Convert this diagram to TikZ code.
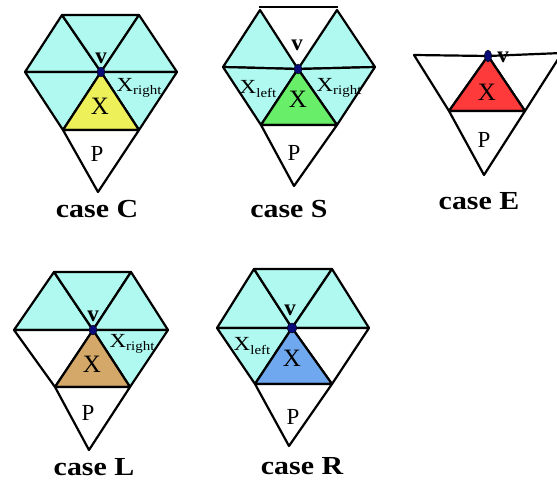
\documentclass[tikz,border=0pt]{standalone}
\usepackage{fontspec}
\usetikzlibrary{shapes.geometric}
\setmainfont{Liberation Serif}
\definecolor{cyanfill}{RGB}{176,249,240}
\definecolor{yelfill}{RGB}{238,240,90}
\definecolor{grnfill}{RGB}{104,238,104}
\definecolor{redfill}{RGB}{255,58,58}
\definecolor{tanfill}{RGB}{212,168,104}
\definecolor{bluefill}{RGB}{112,168,240}
\definecolor{navy}{RGB}{10,10,120}
\newcommand\mytri[4]{\filldraw[tri,fill=#1] (#2)--(#3)--(#4)--cycle;}
\newcommand\xsub[1]{\scalebox{1.15}[1]{{\fontsize{20}{20}\selectfont X}{\fontsize{13}{13}\selectfont\raisebox{-3.5pt}{#1}}}}
\newcommand\caseword[1]{\scalebox{1.15}[1]{\fontsize{26}{26}\selectfont\bfseries #1}}
\begin{document}
\begin{tikzpicture}[x=1pt,y=-1pt,
  tri/.style={draw=black,line width=2.2pt,line join=round},
  vdot/.style={draw=black,line width=0.4pt,fill=navy,ellipse,inner sep=0pt,minimum width=8pt,minimum height=10pt},
  bigx/.style={inner sep=0pt,font=\fontsize{25}{25}\selectfont},
  plab/.style={inner sep=0pt,font=\fontsize{23}{23}\selectfont},
  vlab/.style={inner sep=0pt,font=\fontsize{23}{23}\selectfont\bfseries},
  sublab/.style={inner sep=0pt},
  caselab/.style={inner sep=0pt}]
\clip (0,0) rectangle (557,481);
\fill[white] (0,0) rectangle (557,481);
% ---------- case C ----------
\coordinate (Cc) at (101,72);
\coordinate (CL) at (25,72);
\coordinate (CR) at (177,72);
\coordinate (CTL) at (62,15);
\coordinate (CTR) at (139,15);
\coordinate (CBL) at (63,130);
\coordinate (CBR) at (139,130);
\coordinate (CP) at (98,192);
\mytri{cyanfill}{CL}{CTL}{Cc}
\mytri{cyanfill}{CTL}{CTR}{Cc}
\mytri{cyanfill}{CTR}{CR}{Cc}
\mytri{cyanfill}{CR}{CBR}{Cc}
\mytri{cyanfill}{CBL}{CL}{Cc}
\mytri{yelfill}{Cc}{CBR}{CBL}
\mytri{white}{CBL}{CBR}{CP}
\node[vdot] (Cdot) at (Cc) {};
\node[vlab] (Cv) at (101,58) {v};
\node[bigx] (CX) at (100,106) {X};
\node[sublab] (CXr) at (139,88) {\xsub{right}};
\node[plab] (CPl) at (97,154) {P};
\node[caselab] (Ccase) at (97,209) {\caseword{case C}};
% ---------- case S ----------
\coordinate (Sc) at (298,69);
\coordinate (SL) at (223,67);
\coordinate (SR) at (375,67);
\coordinate (STL) at (260,10);
\coordinate (STR) at (337,10);
\coordinate (SBL) at (261,125);
\coordinate (SBR) at (337,125);
\coordinate (SP) at (294,186);
\coordinate (STa) at (259,7);
\coordinate (STb) at (338,7);
\draw[tri] (STa) -- (STb);
\mytri{cyanfill}{SL}{STL}{Sc}
\mytri{cyanfill}{STR}{SR}{Sc}
\mytri{cyanfill}{SR}{SBR}{Sc}
\mytri{cyanfill}{SBL}{SL}{Sc}
\mytri{grnfill}{Sc}{SBR}{SBL}
\mytri{white}{SBL}{SBR}{SP}
\node[vdot] (Sdot) at (Sc) {};
\node[vlab] (Sv) at (297,45) {v};
\node[bigx] (SX) at (298,99) {X};
\node[sublab] (SXl) at (258,89) {\xsub{left}};
\node[sublab] (SXr) at (339,88) {\xsub{right}};
\node[plab] (SPl) at (294,153) {P};
\node[caselab] (Scase) at (289,209) {\caseword{case S}};
% ---------- case E ----------
\coordinate (Ev) at (488,56);
\coordinate (ETL) at (414,55);
\coordinate (ETR) at (562,53);
\coordinate (EML) at (449,111);
\coordinate (EMR) at (525,111);
\coordinate (EP) at (484,175);
\mytri{white}{ETL}{Ev}{EML}
\mytri{white}{Ev}{ETR}{EMR}
\mytri{redfill}{Ev}{EMR}{EML}
\mytri{white}{EML}{EMR}{EP}
\node[vdot,minimum width=7pt,minimum height=12pt] (Edot) at (Ev) {};
\node[vlab] (Evl) at (503,57) {v};
\node[bigx] (EX) at (487,92) {X};
\node[plab] (EPl) at (484,140) {P};
\node[caselab] (Ecase) at (479,201) {\caseword{case E}};
% ---------- case L ----------
\coordinate (Lc) at (93,330);
\coordinate (LL) at (14,330);
\coordinate (LR) at (168,330);
\coordinate (LTL) at (54,272);
\coordinate (LTR) at (131,272);
\coordinate (LBL) at (55,387);
\coordinate (LBR) at (130,387);
\coordinate (LP) at (89,450);
\mytri{cyanfill}{LL}{LTL}{Lc}
\mytri{cyanfill}{LTL}{LTR}{Lc}
\mytri{cyanfill}{LTR}{LR}{Lc}
\mytri{cyanfill}{LR}{LBR}{Lc}
\mytri{white}{LBL}{LL}{Lc}
\mytri{tanfill}{Lc}{LBR}{LBL}
\mytri{white}{LBL}{LBR}{LP}
\node[vdot] (Ldot) at (Lc) {};
\node[vlab] (Lv) at (93,316) {v};
\node[bigx] (LX) at (92,364) {X};
\node[sublab] (LXr) at (132,344) {\xsub{right}};
\node[plab] (LPl) at (88,413) {P};
\node[caselab] (Lcase) at (94,467) {\caseword{case L}};
% ---------- case R ----------
\coordinate (Rc) at (292,328);
\coordinate (RL) at (217,328);
\coordinate (RR) at (369,328);
\coordinate (RTL) at (254,269);
\coordinate (RTR) at (332,269);
\coordinate (RBL) at (255,384);
\coordinate (RBR) at (332,384);
\coordinate (RP) at (289,446);
\mytri{cyanfill}{RL}{RTL}{Rc}
\mytri{cyanfill}{RTL}{RTR}{Rc}
\mytri{cyanfill}{RTR}{RR}{Rc}
\mytri{white}{RR}{RBR}{Rc}
\mytri{cyanfill}{RBL}{RL}{Rc}
\mytri{bluefill}{Rc}{RBR}{RBL}
\mytri{white}{RBL}{RBR}{RP}
\node[vdot,minimum width=10pt,minimum height=10pt] (Rdot) at (Rc) {};
\node[vlab] (Rv) at (290,310) {v};
\node[bigx] (RX) at (292,358) {X};
\node[sublab] (RXl) at (252,346) {\xsub{left}};
\node[plab] (RPl) at (293,417) {P};
\node[caselab] (Rcase) at (302,466) {\caseword{case R}};
\end{tikzpicture}
\end{document}
